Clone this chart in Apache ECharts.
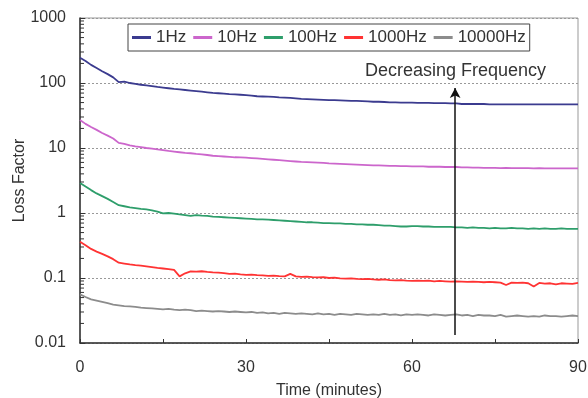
<!DOCTYPE html>
<html>
<head>
<meta charset="utf-8">
<script src="https://cdn.jsdelivr.net/npm/echarts@6/dist/echarts.min.js"></script>
<style>
html,body{margin:0;padding:0;background:#fff;}
#chart{width:588px;height:398px;}
</style>
</head>
<body>
<div id="chart"></div>
<script>
var time = [0,1,2,3,4,5,6,7,8,9,10,11,12,13,14,15,16,17,18,19,20,21,22,23,24,25,26,27,28,29,30,31,32,33,34,35,36,37,38,39,40,41,42,43,44,45,46,47,48,49,50,51,52,53,54,55,56,57,58,59,60,61,62,63,64,65,66,67,68,69,70,71,72,73,74,75,76,77,78,79,80,81,82,83,84,85,86,87,88,89,90];

var hz1 = [245,218,190,170,152,137,122,103,105,100,97,94,92,89.5,87,85,83,81,79.5,78,76.5,75,73.5,72,70.5,69.5,68.5,67.5,67,66,65,64,62.5,62,61.5,61,60,59.5,59,58,57,56.5,56,55.5,55,54.5,54.5,54,53.5,53,53,52.5,52,51.5,51.5,51,50.5,50.5,50,50,50,49.5,49.5,49.5,49,49,49,48.5,48.5,47.5,47.5,47.5,47.5,47.5,47,47,47,47,47,47,47,47,47,47,47,47,47,47,47,47,47];

var hz10 = [27,23.5,21,19,17,15.5,14,12,11.6,11,10.6,10.3,10,9.8,9.5,9.3,9.0,8.8,8.6,8.4,8.3,8.1,8.0,7.8,7.6,7.5,7.4,7.3,7.2,7.15,7.1,7.0,6.9,6.8,6.7,6.6,6.5,6.4,6.3,6.2,6.1,6.05,6.0,5.95,5.9,5.8,5.75,5.7,5.65,5.6,5.55,5.5,5.45,5.4,5.4,5.35,5.3,5.3,5.25,5.25,5.2,5.2,5.2,5.15,5.15,5.15,5.1,5.1,5.1,5.05,5.05,5.0,5.0,4.95,4.95,4.95,4.9,4.95,4.9,4.9,4.9,4.9,4.85,4.9,4.85,4.85,4.85,4.85,4.85,4.85,4.85];

var hz100 = [2.9,2.55,2.25,2.0,1.82,1.65,1.48,1.32,1.27,1.22,1.19,1.16,1.14,1.1,1.05,0.99,1.0,0.98,0.95,0.93,0.9,0.93,0.91,0.9,0.88,0.87,0.86,0.85,0.84,0.83,0.82,0.81,0.8,0.8,0.79,0.78,0.77,0.76,0.75,0.74,0.73,0.72,0.72,0.71,0.7,0.7,0.69,0.69,0.68,0.68,0.67,0.67,0.66,0.66,0.65,0.64,0.64,0.63,0.62,0.62,0.63,0.63,0.62,0.62,0.61,0.61,0.61,0.61,0.6,0.6,0.59,0.6,0.59,0.59,0.58,0.59,0.58,0.58,0.59,0.58,0.58,0.57,0.58,0.57,0.58,0.57,0.57,0.58,0.57,0.57,0.57];

var hz1000 = [0.36,0.32,0.28,0.255,0.235,0.215,0.195,0.172,0.167,0.162,0.158,0.155,0.151,0.147,0.143,0.14,0.137,0.133,0.106,0.118,0.126,0.125,0.127,0.124,0.122,0.121,0.119,0.116,0.117,0.114,0.112,0.113,0.111,0.11,0.108,0.109,0.107,0.106,0.116,0.106,0.104,0.105,0.103,0.102,0.103,0.1,0.101,0.099,0.098,0.099,0.097,0.096,0.097,0.095,0.094,0.095,0.093,0.092,0.093,0.091,0.09,0.091,0.09,0.091,0.089,0.09,0.089,0.088,0.089,0.088,0.087,0.088,0.087,0.086,0.087,0.086,0.085,0.078,0.085,0.084,0.085,0.083,0.074,0.084,0.082,0.083,0.08,0.083,0.082,0.081,0.084];

var hz10000 = [0.056,0.051,0.047,0.045,0.043,0.041,0.039,0.038,0.037,0.0365,0.036,0.035,0.0345,0.034,0.0335,0.033,0.0335,0.0325,0.032,0.0325,0.032,0.031,0.0315,0.031,0.0305,0.031,0.0305,0.03,0.0305,0.03,0.0295,0.03,0.029,0.0295,0.0285,0.029,0.028,0.029,0.0285,0.028,0.0285,0.028,0.0275,0.0285,0.0275,0.028,0.027,0.028,0.0275,0.027,0.028,0.0275,0.027,0.0275,0.027,0.028,0.027,0.0275,0.0265,0.0275,0.027,0.0275,0.027,0.0265,0.0275,0.027,0.0265,0.027,0.0275,0.0265,0.027,0.026,0.027,0.0265,0.0265,0.026,0.027,0.0255,0.026,0.0265,0.026,0.0255,0.026,0.0255,0.0265,0.026,0.026,0.0255,0.026,0.0265,0.026];

var seriesNames = ['1Hz','10Hz','100Hz','1000Hz','10000Hz'];
var seriesColors = ['#3b3b8f','#cc66cc','#2e9e6b','#ff3333','#8c8c8c'];
var yTickLabels = {'0.01':'0.01','0.1':'0.1','1':'1','10':'10','100':'100','1000':'1000'};
var yMinorTicks = [0.02,0.03,0.04,0.05,0.06,0.07,0.08,0.09,0.2,0.3,0.4,0.5,0.6,0.7,0.8,0.9,2,3,4,5,6,7,8,9,20,30,40,50,60,70,80,90,200,300,400,500,600,700,800,900];
var arrowTime = 67.8;
var arrowFrom = 0.0133;
var arrowTo = 84;
var annotationText = 'Decreasing Frequency';

var FONT = '"Liberation Sans", Arial, sans-serif';
var allData = [hz1, hz10, hz100, hz1000, hz10000];

function pairs(arr){ return time.map(function(t,i){ return [t, arr[i]]; }); }

var series = seriesNames.map(function(name, k){
  return {
    name: name,
    type: 'line',
    data: pairs(allData[k]),
    showSymbol: false,
    symbol: 'none',
    lineStyle: { color: seriesColors[k], width: 1.8 },
    itemStyle: { color: seriesColors[k] },
    z: 3
  };
});

series[4].markLine = {
  silent: true,
  symbol: ['none','arrow'],
  symbolSize: [8, 10],
  lineStyle: { color: '#111', width: 1.5, type: 'solid' },
  label: { show: false },
  data: [[{ coord: [arrowTime, arrowFrom] }, { coord: [arrowTime, arrowTo] }]]
};

series.push({
  type: 'custom',
  silent: true,
  data: yMinorTicks.map(function(v){ return [0, v]; }),
  renderItem: function(params, api){
    var p = api.coord([0, api.value(1)]);
    return { type: 'line', shape: { x1: p[0], y1: p[1], x2: p[0] + 4, y2: p[1] }, style: { stroke: '#333', lineWidth: 1 } };
  },
  z: 4
});

var chart = echarts.init(document.getElementById('chart'), null, { renderer: 'canvas' });
chart.setOption({
  animation: false,
  backgroundColor: '#fff',
  textStyle: { fontFamily: FONT },
  grid: { left: 80, right: 10, top: 18, bottom: 55, show: true, borderColor: '#999', borderWidth: 1, containLabel: false, outerBoundsMode: 'none' },
  legend: {
    data: seriesNames,
    left: 128, top: 24,
    orient: 'horizontal',
    itemWidth: 19, itemHeight: 3, itemGap: 7,
    icon: 'rect',
    padding: [5, 4],
    borderColor: '#444', borderWidth: 1,
    backgroundColor: '#fff',
    textStyle: { fontFamily: FONT, fontSize: 17, color: '#333' }
  },
  xAxis: {
    type: 'value', min: 0, max: 90, interval: 30,
    name: 'Time (minutes)', nameLocation: 'middle', nameGap: 40, nameMoveOverlap: false,
    nameTextStyle: { fontFamily: FONT, fontSize: 16, color: '#333' },
    axisLine: { show: true, lineStyle: { color: '#333', width: 1.5 } },
    axisTick: { show: true, inside: true, length: 4, lineStyle: { color: '#333' } },
    minorTick: { show: true, splitNumber: 2, length: 4, lineStyle: { color: '#333' } },
    axisLabel: { fontFamily: FONT, fontSize: 16, color: '#333', margin: 17 },
    splitLine: { show: false }
  },
  yAxis: {
    type: 'log', logBase: 10, min: 0.01, max: 1000,
    name: 'Loss Factor', nameLocation: 'middle', nameGap: 52, nameRotate: 90, nameMoveOverlap: false,
    nameTextStyle: { fontFamily: FONT, fontSize: 16, color: '#333' },
    axisLine: { show: true, lineStyle: { color: '#333', width: 1.5 } },
    axisTick: { show: true, inside: true, length: 5, lineStyle: { color: '#333' } },
    axisLabel: { fontFamily: FONT, fontSize: 16, color: '#333', margin: 14,
      formatter: function(v){ var k = String(+v.toPrecision(3)); return yTickLabels[k] !== undefined ? yTickLabels[k] : k; } },
    splitLine: { show: true, lineStyle: { color: '#999', type: [2, 2], width: 1 } }
  },
  graphic: [{
    type: 'text', left: 365, top: 62, z: 10,
    style: { text: annotationText, font: '18px ' + FONT, fill: '#333' }
  }],
  series: series
});
</script>
</body>
</html>
